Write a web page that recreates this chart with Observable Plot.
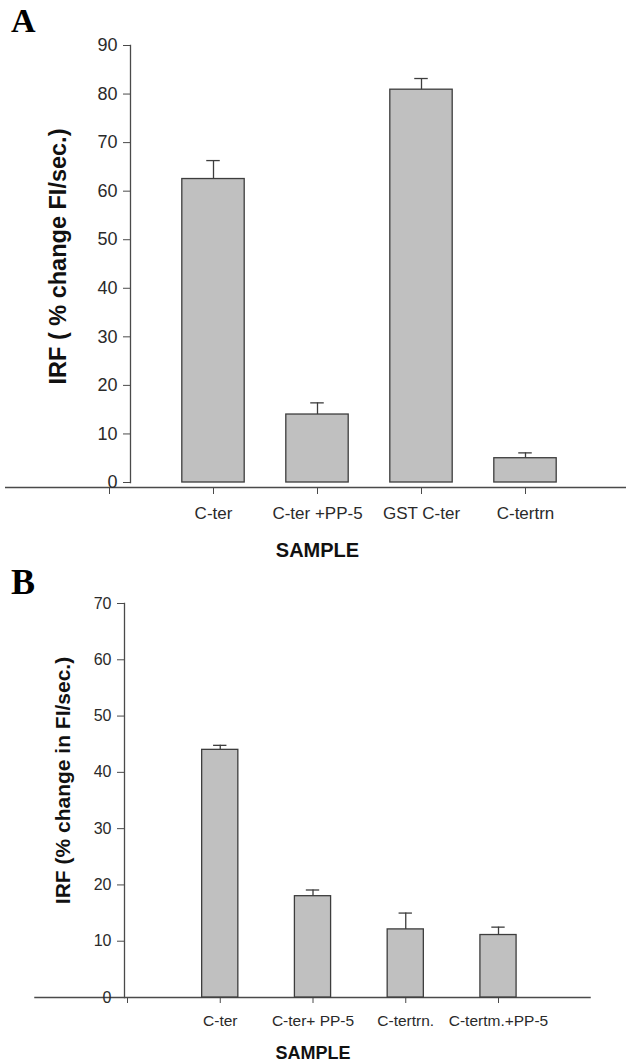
<!DOCTYPE html>
<html>
<head>
<meta charset="utf-8">
<script src="https://cdn.jsdelivr.net/npm/d3@7"></script>
<script src="https://cdn.jsdelivr.net/npm/@observablehq/plot@0.6"></script>
<style>
  html, body { margin: 0; padding: 0; background: #fff; }
  #wrap { position: relative; width: 626px; height: 1061px; overflow: hidden; background: #fff; }
  .panel { position: absolute; left: 0; z-index: 1; }
  .letter { position: absolute; z-index: 2; font-family: "Liberation Serif", "Times New Roman", serif; font-weight: bold; color: #000; }
</style>
</head>
<body>
<div id="wrap">
  <div id="panelA" class="panel" style="top:0px"></div>
  <div id="panelB" class="panel" style="top:570px"></div>
  <div class="letter" style="left:11px;top:4px;font-size:34px;line-height:34px;">A</div>
  <div class="letter" style="left:11px;top:564px;font-size:36px;line-height:36px;">B</div>
</div>
<script>
// ---- Data: panel A ----
const catsA = ["C-ter", "C-ter +PP-5", "GST C-ter", "C-tertrn"];
const valsA = [62.5, 14.0, 80.9, 5.0];
const errsA = [3.8, 2.4, 2.3, 1.1];
const yTicksA = [0, 10, 20, 30, 40, 50, 60, 70, 80, 90];
const yLabelA = "IRF ( % change FI/sec.)";

// ---- Data: panel B ----
const catsB = ["C-ter", "C-ter+ PP-5", "C-tertrn.", "C-tertm.+PP-5"];
const valsB = [44.0, 18.0, 12.1, 11.1];
const errsB = [0.8, 1.1, 2.9, 1.4];
const yTicksB = [0, 10, 20, 30, 40, 50, 60, 70];
const yLabelB = "IRF (% change in FI/sec.)";

const xLabel = "SAMPLE";
const xDomain = [-1, 5];

const axisColor = "#4a4a4a";
const textColor = "#2a2a2a";

function drawPanel(p) {
  const rows = p.cats.map((c, i) => ({cat: c, pos: i + 1, value: p.vals[i], top: p.vals[i] + p.errs[i]}));
  const positions = [0, ...rows.map(d => d.pos)];
  const lineOffset = p.frameBottom - p.zeroY;
  return Plot.plot({
    width: 626,
    height: p.height,
    marginTop: p.topY,
    marginBottom: p.height - p.frameBottom,
    marginLeft: p.axisLeft,
    marginRight: 0,
    x: {type: "linear", domain: xDomain, range: p.xRange},
    y: {domain: [0, p.yMax], range: [p.zeroY, p.topY]},
    style: {fontFamily: "'Liberation Sans', Arial, Helvetica, sans-serif", background: "#fff", overflow: "visible"},
    marks: [
      Plot.frame({anchor: "left", stroke: axisColor, strokeWidth: 1.3, insetBottom: lineOffset}),
      Plot.ruleY([0], {x1: xDomain[0], x2: xDomain[1], dy: lineOffset, stroke: axisColor, strokeWidth: 1.3}),
      Plot.axisY({ticks: p.yTicks, anchor: "left", tickSize: 7, tickPadding: 6, fontSize: p.tickFont, stroke: axisColor, fill: textColor, label: null}),
      Plot.axisX({ticks: positions, anchor: "bottom", tickSize: p.xTickSize, tickPadding: p.xTickPad,
        tickFormat: i => (i === 0 ? "" : p.cats[i - 1]), fontSize: p.catFont, stroke: axisColor, fill: textColor, label: null}),
      Plot.rect(rows, {x1: d => d.pos - p.barHalf, x2: d => d.pos + p.barHalf, y1: 0, y2: "value",
        fill: "#c0c0c0", stroke: "#3d3d3d", strokeWidth: 1.3}),
      Plot.ruleX(rows, {x: "pos", y1: "value", y2: "top", stroke: "#3d3d3d", strokeWidth: 1.3}),
      Plot.ruleY(rows, {y: "top", x1: d => d.pos - p.capHalf, x2: d => d.pos + p.capHalf, stroke: "#3d3d3d", strokeWidth: 1.3}),
      Plot.text([xLabel], {text: d => d, x: (xDomain[0] + xDomain[1]) / 2, frameAnchor: "bottom", lineAnchor: "bottom",
        dy: p.xLabelDy, fontSize: p.titleFont, fontWeight: "bold", fill: "#111"}),
      Plot.text([p.yLabel], {text: d => d, frameAnchor: "left", rotate: -90, lineAnchor: "bottom", textAnchor: "middle",
        dx: p.yLabelDx, dy: p.yLabelDy, fontSize: p.yLabelFont, fontWeight: "bold", fill: "#111"})
    ]
  });
}

document.getElementById("panelA").appendChild(drawPanel({
  cats: catsA, vals: valsA, errs: errsA, yTicks: yTicksA, yMax: 90, yLabel: yLabelA,
  height: 570, topY: 45, zeroY: 482, frameBottom: 487, axisLeft: 130, xRange: [5, 629],
  barHalf: 0.3, capHalf: 0.065, tickFont: 18, catFont: 17, xTickSize: 7, xTickPad: 12,
  titleFont: 20, xLabelDy: 69, yLabelFont: 23.5, yLabelDx: -65, yLabelDy: -10
}));

document.getElementById("panelB").appendChild(drawPanel({
  cats: catsB, vals: valsB, errs: errsB, yTicks: yTicksB, yMax: 70, yLabel: yLabelB,
  height: 491, topY: 33, zeroY: 427, frameBottom: 427, axisLeft: 124, xRange: [34.25, 590.75],
  barHalf: 0.195, capHalf: 0.072, tickFont: 16, catFont: 15.5, xTickSize: 6, xTickPad: 11,
  titleFont: 18, xLabelDy: 61, yLabelFont: 21, yLabelDx: -55, yLabelDy: -20
}));
</script>
</body>
</html>
